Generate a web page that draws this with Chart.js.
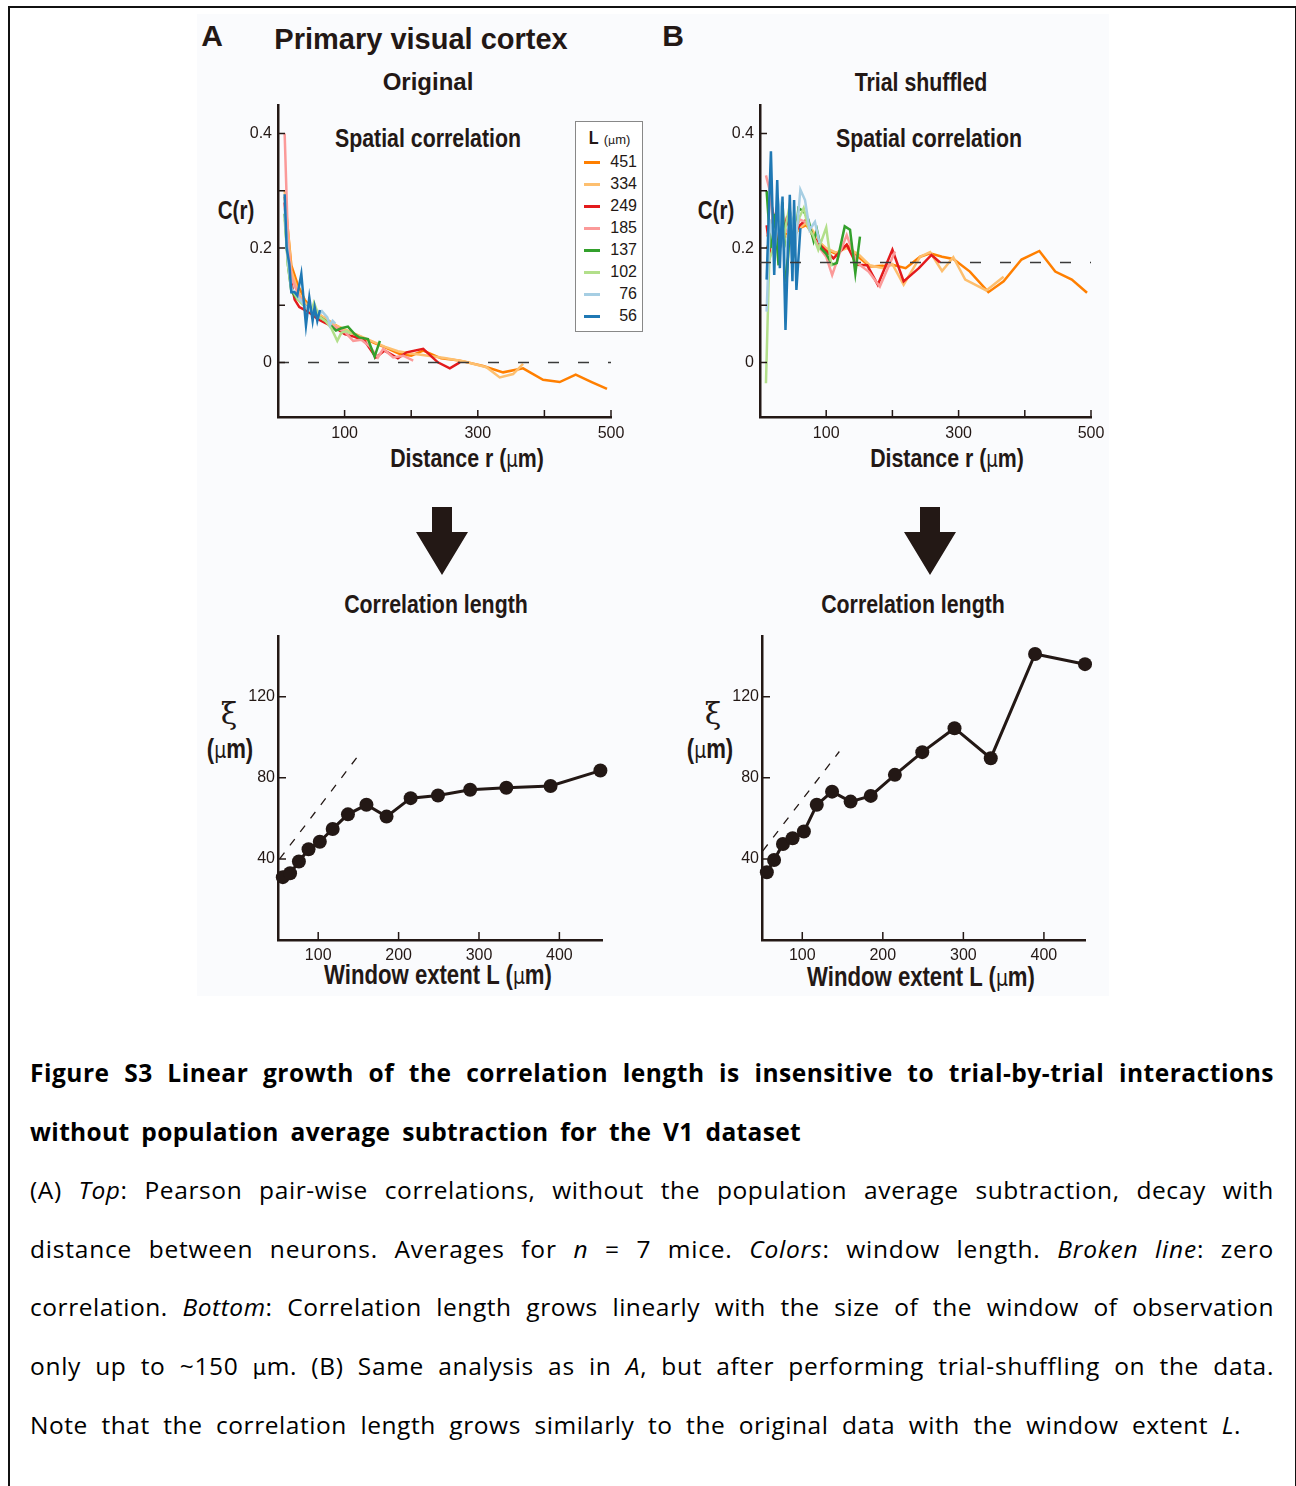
<!DOCTYPE html>
<html>
<head>
<meta charset="utf-8">
<script src="https://cdn.jsdelivr.net/npm/chart.js@4.4.1/dist/chart.umd.min.js"></script>
<style>
  body { margin: 0; width: 1296px; height: 1486px; position: relative; overflow: hidden; background: #fff;
         font-family: "Liberation Sans", Arial, sans-serif; color: #231815; }
  .frame { position: absolute; left: 8px; top: 6px; width: 1285px; height: 1520px; border: 2px solid #111; border-bottom: none; }
  .panel { position: absolute; left: 197px; top: 14px; width: 912px; height: 982px; background: #fafbfd; }
  .t { position: absolute; white-space: nowrap; line-height: 1; transform: translate(-50%, -50%); }
  /* condensed bold look: Arial bold squeezed */
  .nb { font-weight: bold; transform: translate(-50%, -50%) scaleX(0.82); }
  .mu { font-family: "DejaVu Sans", sans-serif; font-weight: normal; font-size: 0.85em; }
  canvas { position: absolute; }
  #legend { position: absolute; left: 575px; top: 121px; width: 66px; height: 209px; border: 1px solid #888; background: #fff; }
  #legend .title { position: absolute; left: 0; width: 66px; top: 5px; text-align: center; white-space: nowrap; }
  #legend .row { position: absolute; left: 0; width: 66px; height: 22px; }
  #legend .swatch { position: absolute; left: 8px; top: 10px; width: 16px; height: 3px; }
  #legend .num { position: absolute; right: 5px; top: 2px; font-size: 16px; line-height: 18px; }
  .caption { position: absolute; left: 30px; top: 1044px; width: 1245px; font-family: "Open Sans", Lato, sans-serif;
             font-size: 24.5px; line-height: 58.6px; color: #000; }
  .caption div { height: 58.6px; white-space: nowrap; text-align: left; }
</style>
</head>
<body>
<div class="frame"></div>
<div class="panel"></div>

<div class="t" style="left:212px;top:36px;font-size:30px;font-weight:bold">A</div>
<div class="t" style="left:421px;top:39px;font-size:29px;font-weight:bold">Primary visual cortex</div>
<div class="t" style="left:673px;top:36px;font-size:30px;font-weight:bold">B</div>
<div class="t" style="left:428px;top:82px;font-size:24px;font-weight:bold">Original</div>
<div class="t nb" style="left:921px;top:82px;font-size:26px">Trial shuffled</div>

<div class="t nb" style="left:428px;top:138px;font-size:26px">Spatial correlation</div>
<div class="t nb" style="left:929px;top:138px;font-size:26px">Spatial correlation</div>
<div class="t nb" style="left:236px;top:210px;font-size:25px">C(r)</div>
<div class="t nb" style="left:716px;top:210px;font-size:25px">C(r)</div>
<div class="t nb" style="left:467px;top:458px;font-size:26px">Distance r (<span class="mu">μ</span>m)</div>
<div class="t nb" style="left:947px;top:458px;font-size:26px">Distance r (<span class="mu">μ</span>m)</div>

<svg style="position:absolute;left:416px;top:507px" width="52" height="68"><polygon points="16,0 36,0 36,25 52,25 26,68 0,25 16,25" fill="#231815"/></svg>
<svg style="position:absolute;left:904px;top:507px" width="52" height="68"><polygon points="16,0 36,0 36,25 52,25 26,68 0,25 16,25" fill="#231815"/></svg>

<div class="t nb" style="left:436px;top:604px;font-size:26px">Correlation length</div>
<div class="t nb" style="left:913px;top:604px;font-size:26px">Correlation length</div>
<div class="t" style="left:229px;top:714px;font-size:30px;font-family:'DejaVu Serif',serif">ξ</div>
<div class="t" style="left:713px;top:714px;font-size:30px;font-family:'DejaVu Serif',serif">ξ</div>
<div class="t nb" style="left:230px;top:749px;font-size:27px">(<span class="mu">μ</span>m)</div>
<div class="t nb" style="left:710px;top:749px;font-size:27px">(<span class="mu">μ</span>m)</div>
<div class="t nb" style="left:438px;top:975px;font-size:27px">Window extent L (<span class="mu">μ</span>m)</div>
<div class="t nb" style="left:921px;top:977px;font-size:27px">Window extent L (<span class="mu">μ</span>m)</div>

<canvas id="origCorr" width="413" height="354" style="left:218px;top:93px"></canvas>
<canvas id="shufCorr" width="411" height="354" style="left:700px;top:93px"></canvas>
<canvas id="origXi" width="404" height="346" style="left:218px;top:624px"></canvas>
<canvas id="shufXi" width="403" height="346" style="left:702px;top:624px"></canvas>

<div id="legend"><div class="title"><span style="font-size:19px;font-weight:bold;display:inline-block;transform:scaleX(0.85)">L</span> <span style="font-size:13px">(<span class="mu">μ</span>m)</span></div></div>

<div class="caption" id="caption">
  <div><b>Figure S3 Linear growth of the correlation length is insensitive to trial-by-trial interactions</b></div>
  <div><b>without population average subtraction for the V1 dataset</b></div>
  <div>(A) <i>Top</i>: Pearson pair-wise correlations, without the population average subtraction, decay with</div>
  <div>distance between neurons. Averages for <i>n</i> = 7 mice. <i>Colors</i>: window length. <i>Broken line</i>: zero</div>
  <div>correlation. <i>Bottom</i>: Correlation length grows linearly with the size of the window of observation</div>
  <div>only up to ~150 <span style="font-family:'DejaVu Sans';font-size:0.85em">μ</span>m. (B) Same analysis as in <i>A</i>, but after performing trial-shuffling on the data.</div>
  <div>Note that the correlation length grows similarly to the original data with the window extent <i>L</i>.</div>
</div>

<script>
// window lengths (legend order) and their colours
const windowL = [451, 334, 249, 185, 137, 102, 76, 56];
const windowColors = ['#ff7f00', '#fdbf6f', '#e31a1c', '#fb9a99', '#33a02c', '#b2df8a', '#a6cee3', '#1f78b4'];

// spatial correlation C(r), original data: [r, C]
const orig451 = [[10,0.29],[20,0.17],[30,0.135],[40,0.11],[50,0.095],[60,0.085],[70,0.078],[80,0.07],[90,0.063],[100,0.057],[115,0.05],[130,0.042],[145,0.034],[160,0.027],[183,0.015],[200,0.012],[218,0.021],[245,0.0075],[273,0.0035],[308,-0.006],[338,-0.017],[368,-0.010],[398,-0.030],[423,-0.034],[447,-0.021],[471,-0.034],[494,-0.046]];
const orig334 = [[10,0.30],[20,0.16],[30,0.125],[40,0.105],[55,0.09],[70,0.078],[85,0.066],[100,0.058],[120,0.048],[140,0.038],[160,0.028],[180,0.02],[200,0.016],[220,0.013],[250,0.008],[280,0.002],[313,-0.008],[333,-0.026],[353,-0.02],[368,-0.002]];
const orig249 = [[10,0.28],[15,0.19],[20,0.14],[25,0.11],[32,0.097],[40,0.092],[50,0.085],[60,0.076],[70,0.07],[80,0.064],[90,0.058],[100,0.05],[115,0.045],[130,0.038],[147,0.009],[160,0.021],[180,0.0075],[193,0.018],[218,0.024],[240,0.0005],[258,-0.010],[273,0.0005]];
const orig185 = [[10,0.40],[15,0.21],[20,0.15],[30,0.12],[40,0.1],[50,0.09],[60,0.08],[70,0.074],[80,0.066],[90,0.06],[100,0.054],[113,0.038],[125,0.04],[138,0.028],[150,0.009],[158,0.024],[173,0.009],[188,0.012],[203,0.0035]];
const orig137 = [[10,0.26],[15,0.17],[20,0.125],[27,0.114],[35,0.105],[45,0.095],[55,0.085],[65,0.078],[75,0.07],[87,0.056],[95,0.06],[105,0.063],[115,0.05],[122,0.044],[135,0.041],[145,0.0105],[153,0.038]];
const orig102 = [[10,0.25],[15,0.17],[20,0.13],[30,0.11],[40,0.098],[50,0.09],[54,0.105],[62,0.08],[72,0.072],[80,0.06],[89,0.038],[95,0.052],[103,0.055],[110,0.05]];
const orig76 = [[10,0.27],[15,0.18],[20,0.13],[30,0.115],[40,0.1],[50,0.09],[60,0.082],[66,0.09],[74,0.079],[78,0.065],[82,0.073],[86,0.068]];
const orig56 = [[10,0.294],[13,0.2],[17,0.172],[20,0.123],[25,0.123],[29,0.117],[35,0.155],[42,0.065],[47,0.114],[52,0.073],[55,0.097],[59,0.073],[63,0.092]];

// spatial correlation C(r), trial shuffled
const shuf451 = [[10,0.2],[20,0.22],[30,0.23],[40,0.225],[50,0.22],[60,0.235],[70,0.24],[80,0.225],[90,0.21],[101,0.197],[115,0.19],[131,0.206],[148,0.185],[166,0.168],[186,0.169],[200,0.171],[220,0.165],[242,0.185],[257,0.191],[275,0.185],[292,0.181],[317,0.159],[345,0.123],[368,0.142],[395,0.18],[422,0.195],[446,0.159],[471,0.145],[494,0.122]];
const shuf334 = [[10,0.22],[20,0.23],[30,0.225],[40,0.22],[50,0.225],[60,0.235],[70,0.245],[80,0.23],[90,0.21],[100,0.2],[115,0.192],[131,0.2],[148,0.19],[166,0.17],[186,0.165],[200,0.172],[217,0.136],[242,0.185],[257,0.193],[275,0.16],[292,0.184],[310,0.145],[342,0.126],[368,0.15]];
const shuf249 = [[10,0.24],[15,0.197],[20,0.26],[30,0.2],[40,0.25],[50,0.22],[60,0.24],[70,0.25],[80,0.22],[93,0.203],[111,0.182],[131,0.206],[146,0.171],[162,0.17],[178,0.136],[200,0.197],[217,0.142],[240,0.165],[259,0.188],[272,0.175]];
const shuf185 = [[9,0.327],[15,0.3],[20,0.24],[30,0.25],[40,0.23],[50,0.22],[60,0.25],[70,0.245],[80,0.22],[90,0.2],[100,0.185],[109,0.153],[120,0.19],[131,0.223],[146,0.175],[164,0.159],[181,0.133],[204,0.194]];
const shuf137 = [[10,0.3],[16,0.2],[22,0.26],[28,0.17],[34,0.28],[40,0.14],[46,0.25],[52,0.2],[58,0.27],[66,0.264],[73,0.25],[81,0.212],[86,0.232],[92,0.2],[100,0.19],[109,0.171],[116,0.174],[128,0.238],[136,0.232],[144,0.156],[151,0.22]];
const shuf102 = [[9,-0.036],[14,0.18],[20,0.2],[28,0.26],[36,0.22],[44,0.27],[52,0.23],[60,0.255],[66,0.27],[73,0.235],[80,0.223],[88,0.197],[100,0.236],[108,0.168]];
const shuf76 = [[10,0.089],[15,0.25],[22,0.2],[30,0.27],[38,0.18],[46,0.26],[54,0.21],[61,0.302],[68,0.284],[75,0.232],[83,0.246],[90,0.209]];
const shuf56 = [[10,0.145],[16.5,0.369],[21.5,0.153],[26,0.319],[30,0.165],[34,0.29],[38.5,0.057],[45,0.293],[49,0.142],[51.5,0.284],[55,0.127],[61,0.235]];

const origBaseline = 0;
const shufBaseline = 0.175;

// correlation length xi vs window extent L
const windowExtent = [56, 65, 76, 88, 102, 118, 137, 160, 185, 215, 249, 289, 334, 389, 451];
const xiOriginal = [31.0, 32.9, 38.7, 44.8, 48.5, 54.8, 62.0, 66.7, 60.9, 70.0, 71.3, 74.1, 75.1, 76.0, 83.6];
const xiShuffled = [33.4, 39.5, 47.4, 50.2, 53.5, 66.7, 73.2, 68.3, 71.1, 81.5, 92.7, 104.5, 89.7, 141.1, 136.1];
const guideOriginal = [[52, 40], [148, 90]];
const guideShuffled = [[51, 44], [146, 93]];

// ticks
const corrXTicks = [100, 200, 300, 400, 500];
const corrXLabels = [100, 300, 500];
const corrYTicks = [0, 0.1, 0.2, 0.3, 0.4];
const corrYLabels = [0, 0.2, 0.4];
const xiXTicks = [100, 200, 300, 400];
const xiYTicks = [40, 80, 120];

// caption line widths in the figure (px)
const captionWidths = [1245, 772, 1245, 1245, 1245, 1245, 1212];

const ink = '#231815';
const toXY = (pairs) => pairs.map(([x, y]) => ({ x, y }));

// small tick marks pointing into the plot
const innerTicks = {
  id: 'innerTicks',
  afterDatasetsDraw(chart, args, opts) {
    const { ctx, chartArea: { left, bottom }, scales: { x, y } } = chart;
    ctx.save();
    ctx.strokeStyle = ink;
    ctx.lineWidth = 1.5;
    ctx.beginPath();
    opts.xTicks.forEach((v) => {
      const px = x.getPixelForValue(v);
      ctx.moveTo(px, bottom);
      ctx.lineTo(px, bottom - opts.len);
    });
    opts.yTicks.forEach((v) => {
      const py = y.getPixelForValue(v);
      ctx.moveTo(left, py);
      ctx.lineTo(left + opts.len, py);
    });
    ctx.stroke();
    ctx.restore();
  },
};

function axis(min, max, labels, pad, fit) {
  return {
    type: 'linear',
    min: min,
    max: max,
    grid: { display: false },
    border: { color: ink, width: 2.5 },
    ticks: { padding: pad, color: ink, font: { size: 16 }, maxRotation: 0, callback: (v) => String(v) },
    afterBuildTicks: (s) => { s.ticks = labels.map((v) => ({ value: v })); },
    afterFit: fit,
  };
}

function makeChart(id, datasets, x, y, tickOpts) {
  return new Chart(document.getElementById(id), {
    type: 'line',
    data: { datasets: datasets },
    options: {
      responsive: false,
      animation: false,
      layout: { padding: { top: 12, right: 20, bottom: 0, left: 0 } },
      plugins: {
        legend: { display: false },
        tooltip: { enabled: false },
        innerTicks: tickOpts,
      },
      scales: { x: x, y: y },
    },
    plugins: [innerTicks],
  });
}

function corrDatasets(series, baseline) {
  // dataset 0 is drawn on top: dashed line, then smallest window ... largest
  const sets = [{
    data: toXY([[0, baseline], [500, baseline]]),
    borderColor: '#3a3a3a', borderWidth: 1.5, borderDash: [11, 19], pointRadius: 0,
  }];
  for (let i = series.length - 1; i >= 0; i--) {
    sets.push({
      data: toXY(series[i]),
      borderColor: windowColors[i], borderWidth: 2.5, pointRadius: 0, tension: 0,
    });
  }
  return sets;
}

function xiDatasets(xi, guide) {
  return [
    {
      data: windowExtent.map((L, i) => ({ x: L, y: xi[i] })),
      borderColor: ink, borderWidth: 3, pointRadius: 7, pointBackgroundColor: ink,
      pointBorderWidth: 0, tension: 0, clip: false,
    },
    {
      data: toXY(guide),
      borderColor: ink, borderWidth: 1.3, borderDash: [8, 9], pointRadius: 0,
    },
  ];
}

Chart.defaults.font.family = '"Liberation Sans", Arial, sans-serif';
Chart.defaults.color = ink;

const fitY = (s) => { s.width = 60; };
const fitX = (s) => { s.height = 30; };

makeChart('origCorr',
  corrDatasets([orig451, orig334, orig249, orig185, orig137, orig102, orig76, orig56], origBaseline),
  axis(0, 500, corrXLabels, -1, fitX), axis(-0.095, 0.45, corrYLabels, -2, fitY),
  { xTicks: corrXTicks, yTicks: corrYTicks, len: 7 });

makeChart('shufCorr',
  corrDatasets([shuf451, shuf334, shuf249, shuf185, shuf137, shuf102, shuf76, shuf56], shufBaseline),
  axis(0, 500, corrXLabels, -1, fitX), axis(-0.095, 0.45, corrYLabels, -2, fitY),
  { xTicks: corrXTicks, yTicks: corrYTicks, len: 7 });

makeChart('origXi', xiDatasets(xiOriginal, guideOriginal),
  axis(50, 453, xiXTicks, -2, fitX), axis(0, 150, xiYTicks, -5, fitY),
  { xTicks: xiXTicks, yTicks: xiYTicks, len: 8 });

makeChart('shufXi', xiDatasets(xiShuffled, guideShuffled),
  axis(50, 451, xiXTicks, -2, fitX), axis(0, 150, xiYTicks, -5, fitY),
  { xTicks: xiXTicks, yTicks: xiYTicks, len: 8 });

// legend box built from the window list
const legend = document.getElementById('legend');
windowL.forEach((L, i) => {
  const row = document.createElement('div');
  row.className = 'row';
  row.style.top = (29 + i * 22) + 'px';
  row.innerHTML = '<div class="swatch" style="background:' + windowColors[i] + '"></div><div class="num">' + L + '</div>';
  legend.appendChild(row);
});

// spread caption lines to the widths they have in the figure
// (measured while left-aligned, then widened with letter and word spacing)
document.querySelectorAll('#caption div').forEach((line, i) => {
  const span = document.createElement('span');
  span.innerHTML = line.innerHTML.trim();
  line.innerHTML = '';
  line.appendChild(span);
  const natural = span.getBoundingClientRect().width;
  const text = span.textContent;
  const spaces = (text.match(/ /g) || []).length;
  const deficit = captionWidths[i] - natural - 1;
  span.style.letterSpacing = (deficit * 0.35 / text.length) + 'px';
  span.style.wordSpacing = (deficit * 0.65 / Math.max(spaces, 1)) + 'px';
});
</script>
</body>
</html>
